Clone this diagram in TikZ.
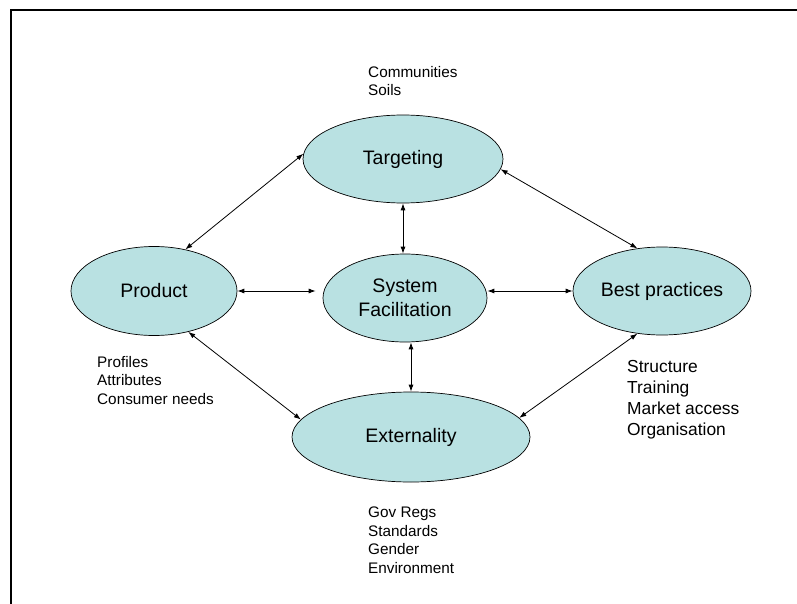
\documentclass[tikz,border=0pt]{standalone}
\usepackage{fontspec}
\setmainfont{Liberation Sans}
\usetikzlibrary{shapes.geometric,arrows.meta}

\begin{document}
\begin{tikzpicture}[x=1pt,y=-1pt,
  blob/.style={ellipse, draw=black, line width=0.7pt, fill=colBlob,
    inner sep=0pt, align=center, font=\fontsize{19.5}{24}\selectfont},
  link/.style={{Latex[length=7pt,width=5pt]}-{Latex[length=7pt,width=5pt]},
    line width=0.8pt},
  note/.style={anchor=north west, inner sep=0pt, align=left,
    font=\fontsize{15.3}{18.5}\selectfont}]

% Colori
\definecolor{colBlob}{HTML}{B9E1E2}

% Cornice
\useasboundingbox (0,0) rectangle (797,604);
\draw[line width=2.2pt] (797,10) -- (11,10) -- (11,604);

% Ellissi
\node[blob, minimum width=200pt, minimum height=88pt] (tgt) at (403,159) {Targeting};
\node[blob, minimum width=164pt, minimum height=88pt] (sys) at (405,298) {System\\Facilitation};
\node[blob, minimum width=166pt, minimum height=89pt] (prod) at (154,291) {Product};
\node[blob, minimum width=178pt, minimum height=88pt] (best) at (662,291) {Best practices};
\node[blob, minimum width=238pt, minimum height=90pt] (ext) at (411,437) {Externality};

% Frecce doppie
\draw[link] (tgt.177) -- (prod.53);
\draw[link] (tgt.-6) -- (best.120);
\draw[link] (prod.-50) -- (ext.171);
\draw[link] (best.-120) -- (ext.10);
\draw[link] (tgt.south) -- (tgt.south |- sys.north);
\draw[link] (ext.north |- sys.south) -- (ext.north);
\draw[link] (prod.east) -- ([xshift=-7pt]sys.west |- prod.east);
\draw[link] (sys.east |- best.west) -- (best.west);

% Note
\node[note] (notetgt) at (368,66) {Communities\\Soils};
\node[note] (noteprod) at (97,356) {Profiles\\Attributes\\Consumer needs};
\node[note, font=\fontsize{17.4}{21}\selectfont] (notebest) at (627,360)
  {Structure\\Training\\Market access\\Organisation};
\node[note] (noteext) at (368,507) {Gov Regs\\Standards\\Gender\\Environment};

\end{tikzpicture}
\end{document}
